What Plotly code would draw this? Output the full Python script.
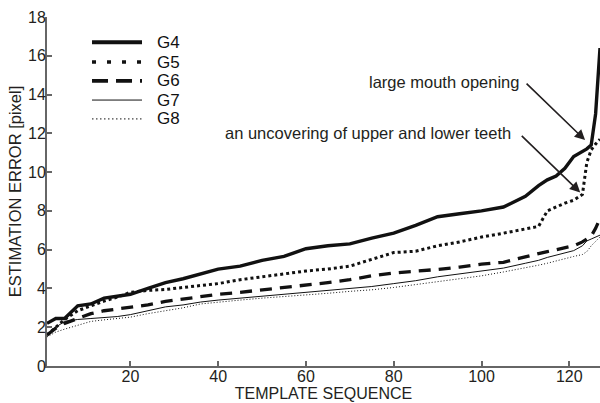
import plotly.graph_objects as go

x_seq = [1, 3, 5, 8, 11, 14, 17, 20, 24, 28, 32, 36, 40, 45, 50, 55, 60, 65, 70, 75,
         80, 85, 90, 95, 100, 105, 110, 113, 115, 117, 119, 121, 123, 124, 125, 126, 127]

g4 = [2.2, 2.45, 2.45, 3.1, 3.2, 3.5, 3.6, 3.7, 4.0, 4.3, 4.5, 4.75, 5.0, 5.15, 5.45, 5.65,
      6.05, 6.2, 6.3, 6.6, 6.85, 7.25, 7.7, 7.85, 8.0, 8.2, 8.75, 9.3, 9.6, 9.8, 10.2, 10.8,
      11.05, 11.2, 11.4, 13.0, 16.4]
g5 = [1.6, 2.0, 2.4, 2.85, 3.1, 3.35, 3.55, 3.8, 3.9, 3.95, 4.05, 4.15, 4.25, 4.45, 4.6,
      4.75, 4.9, 5.0, 5.15, 5.5, 5.85, 5.92, 6.2, 6.4, 6.65, 6.85, 7.05, 7.2, 8.0, 8.2, 8.4,
      8.55, 8.85, 10.5, 11.15, 11.45, 11.7]
g6 = [1.6, 1.95, 2.2, 2.45, 2.7, 2.85, 2.95, 3.03, 3.15, 3.33, 3.45, 3.55, 3.7, 3.8, 3.92,
      4.05, 4.2, 4.3, 4.45, 4.65, 4.8, 4.88, 4.98, 5.1, 5.25, 5.35, 5.65, 5.8, 5.9, 6.0, 6.1,
      6.2, 6.4, 6.55, 6.7, 7.1, 7.6]
g7 = [1.6, 2.0, 2.3, 2.4, 2.45, 2.5, 2.55, 2.65, 2.85, 3.05, 3.15, 3.3, 3.4, 3.5, 3.6,
      3.68, 3.78, 3.88, 3.98, 4.1, 4.25, 4.4, 4.6, 4.75, 4.9, 5.05, 5.3, 5.45, 5.6, 5.72,
      5.85, 5.95, 6.2, 6.45, 6.55, 6.65, 6.75]
g8 = [1.5, 1.75, 1.9, 2.1, 2.3, 2.38, 2.45, 2.52, 2.7, 2.85, 3.0, 3.2, 3.3, 3.4, 3.5,
      3.58, 3.65, 3.75, 3.85, 3.93, 4.05, 4.2, 4.35, 4.5, 4.65, 4.85, 5.05, 5.2, 5.3, 5.42,
      5.55, 5.65, 5.75, 5.9, 6.2, 6.45, 6.65]

series_names = ["G4", "G5", "G6", "G7", "G8"]
series_vals = [g4, g5, g6, g7, g8]
y_ticks = [0, 2, 4, 6, 8, 10, 12, 14, 16, 18]
x_ticks = [20, 40, 60, 80, 100, 120]

styles = [
    dict(width=3.4, dash="solid"),
    dict(width=3, dash="3px,3px"),
    dict(width=3.3, dash="12px,8px"),
    dict(width=1, dash="solid"),
    dict(width=1, dash="1px,2px"),
]
legend_dash = ["solid", "4px,11px", "16px,8px", "solid", "1.5px,2.5px"]

FONT = "Liberation Sans, Arial, sans-serif"

fig = go.Figure()
for name, vals, st in zip(series_names, series_vals, styles):
    fig.add_trace(go.Scatter(x=x_seq, y=vals, mode="lines", name=name,
                             line=dict(color="#111111", width=st["width"], dash=st["dash"]),
                             showlegend=False))

# manual legend (paper coordinates)
leg_y = [0.928, 0.871, 0.817, 0.762, 0.708]
for name, st, ld, yy in zip(series_names, styles, legend_dash, leg_y):
    fig.add_shape(type="line", xref="paper", yref="paper", x0=0.0814, x1=0.1718, y0=yy, y1=yy,
                  line=dict(color="#111111", width=st["width"] + (0.6 if st["width"] > 2 else 0), dash=ld))
    fig.add_annotation(xref="paper", yref="paper", x=0.195, y=yy, text=name, showarrow=False,
                       xanchor="left", yanchor="middle", font=dict(size=17, color="#111111", family=FONT))

# callouts
fig.add_annotation(x=123.6, y=11.65, xref="x", yref="y", text="", showarrow=True,
                   ax=-60, ay=-58, arrowhead=2, arrowsize=1.3, arrowwidth=1.6, arrowcolor="#231f20")
fig.add_annotation(x=122.5, y=8.95, xref="x", yref="y", text="", showarrow=True,
                   ax=-60, ay=-58, arrowhead=2, arrowsize=1.3, arrowwidth=1.6, arrowcolor="#231f20")
fig.add_annotation(x=(521 - 42.2) / 4.39, y=(366 - 81.7) / 19.4, xref="x", yref="y",
                   text="large mouth opening", showarrow=False, xanchor="right", yanchor="middle",
                   font=dict(size=16.5, color="#231f20", family=FONT))
fig.add_annotation(x=(513 - 42.2) / 4.39, y=(366 - 133) / 19.4, xref="x", yref="y",
                   text="an uncovering of upper and lower teeth", showarrow=False,
                   xanchor="right", yanchor="middle",
                   font=dict(size=16.5, color="#231f20", family=FONT))

fig.update_layout(
    width=600, height=403,
    margin=dict(l=47, r=0, t=17, b=37),
    paper_bgcolor="white", plot_bgcolor="white",
    font=dict(family=FONT, color="#231f20", size=15),
    showlegend=False,
)
fig.update_xaxes(range=[1, 127], tickvals=x_ticks, ticks="inside", ticklen=5, tickwidth=1.5,
                 tickcolor="#666666", showline=True, linecolor="#666666", linewidth=2,
                 showgrid=False, zeroline=False, automargin=False, ticklabelstandoff=-5,
                 tickfont=dict(size=16), title=dict(text="TEMPLATE SEQUENCE", font=dict(size=16), standoff=2))
fig.update_yaxes(range=[0, 18], tickvals=y_ticks, ticks="inside", ticklen=5, tickwidth=1.5,
                 tickcolor="#666666", showline=True, linecolor="#666666", linewidth=2,
                 showgrid=False, zeroline=False, automargin=False, ticklabelstandoff=-4,
                 tickfont=dict(size=16), title=dict(text="ESTIMATION ERROR [pixel]", font=dict(size=16.5), standoff=2))

fig.write_html("out.html", config={"displayModeBar": False},
               post_script="document.body.style.margin='0px';document.body.style.overflow='hidden';")
